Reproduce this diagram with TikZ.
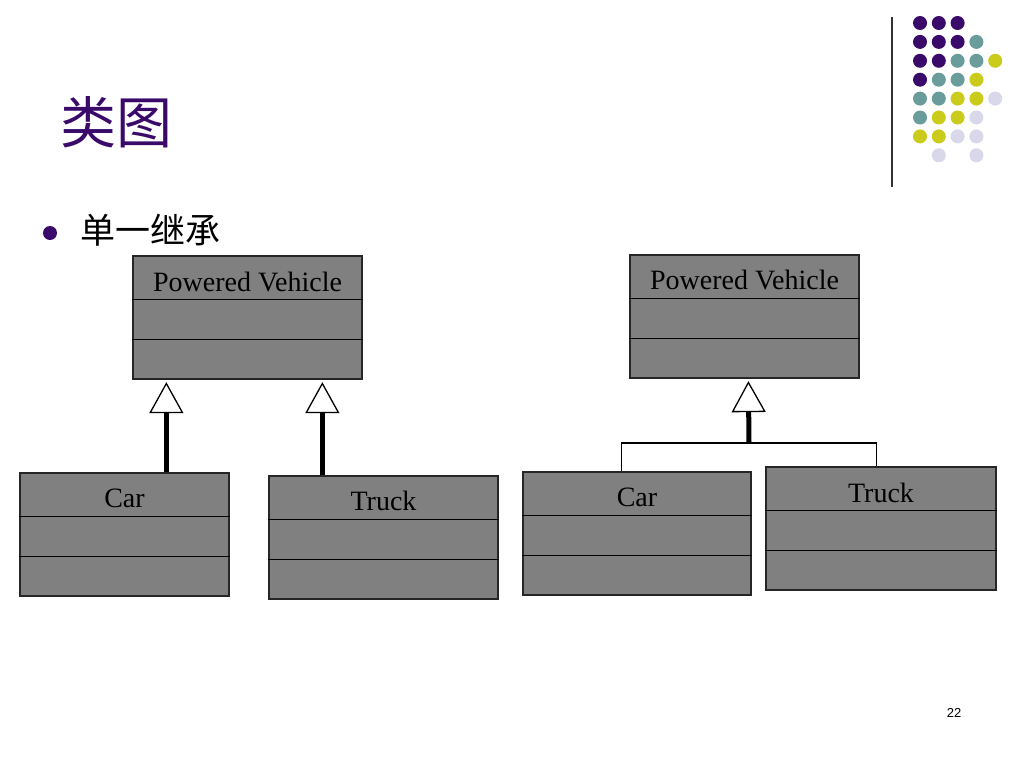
\documentclass[tikz,border=0pt]{standalone}
\usepackage{fontspec}
\setmainfont{Liberation Serif}
\newfontfamily\cjk{Noto Sans CJK SC}
\newfontfamily\numfont{Liberation Sans}
\usetikzlibrary{arrows.meta}
\definecolor{dpurple}{HTML}{3A0A6B}
\definecolor{dteal}{HTML}{6A9C9C}
\definecolor{dyellow}{HTML}{CBCB1C}
\definecolor{dlav}{HTML}{D8D8EA}
\definecolor{boxgray}{HTML}{808080}
\tikzset{
  cls/.style={draw=black!85, fill=boxgray, line width=1.3pt, inner sep=0pt,
    minimum width=229pt, minimum height=123pt},
  div/.style={draw=black, line width=1.2pt},
  lbl/.style={anchor=base, inner sep=0pt, font=\fontsize{28}{28}\selectfont},
  inh/.style={line width=5pt, -{Triangle[open, width=34pt, length=31pt, line width'=1.3pt]}, shorten >=2.5pt},
  thinline/.style={line width=1.2pt},
}
\newcommand{\umlbox}[5]{% name, center, label, label offset, width
  \node[cls, minimum width=#5] (#1) at (#2) {};
  \draw[div] ([yshift=-44pt]#1.north west) -- ([yshift=-44pt]#1.north east);
  \draw[div] ([yshift=-84pt]#1.north west) -- ([yshift=-84pt]#1.north east);
  \node[lbl] (#1t) at ([yshift=-#4]#1.north) {#3};
}
\begin{document}
\begin{tikzpicture}[x=1pt,y=-1pt]
\useasboundingbox[fill=white] (0,0) rectangle (1024,768);

% decorative dots
\foreach \c/\r/\col in {
  0/0/dpurple,1/0/dpurple,2/0/dpurple,
  0/1/dpurple,1/1/dpurple,2/1/dpurple,3/1/dteal,
  0/2/dpurple,1/2/dpurple,2/2/dteal,3/2/dteal,4/2/dyellow,
  0/3/dpurple,1/3/dteal,2/3/dteal,3/3/dyellow,
  0/4/dteal,1/4/dteal,2/4/dyellow,3/4/dyellow,4/4/dlav,
  0/5/dteal,1/5/dyellow,2/5/dyellow,3/5/dlav,
  0/6/dyellow,1/6/dyellow,2/6/dlav,3/6/dlav,
  1/7/dlav,3/7/dlav}{
  \fill[\col] (920+\c*18.8, 23+\r*18.9) circle (7pt);
}
\draw[black!80, line width=1.3pt] (892,17) -- (892,187);

% title and bullet
\node[anchor=west, inner sep=0pt, text=dpurple] (title) at (60,122) {\cjk\fontsize{56}{56}\selectfont 类图};
\fill[dpurple] (50,233) circle (7pt);
\node[anchor=west, inner sep=0pt] (bullet) at (80,230) {\cjk\fontsize{35}{35}\selectfont 单一继承};

% left diagram
\umlbox{pvL}{247.5,317.5}{Powered Vehicle}{36pt}{229pt}
\umlbox{carL}{124.5,534.5}{Car}{35pt}{209pt}
\umlbox{truckL}{383.5,537.5}{Truck}{35pt}{229pt}
\draw[inh] ([xshift=147pt]carL.north west) -- ([xshift=34pt]pvL.south west);
\draw[inh] ([xshift=54pt]truckL.north west) -- ([xshift=190pt]pvL.south west);

% right diagram
\umlbox{pvR}{744.5,316.5}{Powered Vehicle}{35pt}{229pt}
\umlbox{carR}{637,533.5}{Car}{35pt}{228pt}
\umlbox{truckR}{881,528.5}{Truck}{36pt}{230pt}
\coordinate (j) at (749,443);
\coordinate (ca) at ([xshift=99pt]carR.north west);
\coordinate (tb) at ([xshift=111pt]truckR.north west);
\draw[thinline] (ca) -- (ca |- j) -- (tb |- j) -- (tb);
\draw[inh] (j) -- ([xshift=119pt]pvR.south west);

% page number
\node[inner sep=0pt, font=\numfont\fontsize{13}{13}\selectfont] (pg) at (954,713) {22};
\end{tikzpicture}
\end{document}
